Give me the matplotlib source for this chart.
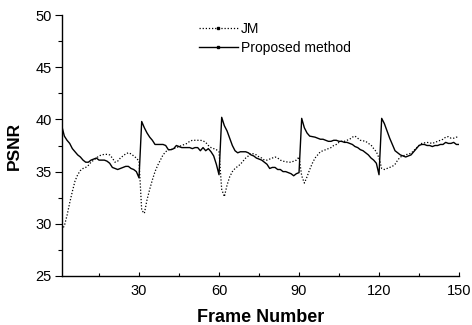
import matplotlib
matplotlib.use("Agg")
import matplotlib.pyplot as plt
from matplotlib.lines import Line2D
from matplotlib.ticker import MultipleLocator

plt.rcParams['font.family'] = ['Liberation Sans', 'DejaVu Sans']

frames = list(range(1, 151))

jm = [29.4, 29.8, 30.8, 32.0, 33.1, 34.1, 34.7, 35.1, 35.3, 35.4,
      35.6, 35.9, 36.1, 36.3, 36.5, 36.6, 36.65, 36.65, 36.6, 36.3,
      35.9, 36.0, 36.3, 36.5, 36.7, 36.8, 36.7, 36.5, 36.3, 36.0,
      31.3, 31.0, 32.3, 33.3, 34.2, 35.0, 35.6, 36.1, 36.6, 36.9,
      37.1, 37.1, 37.2, 37.3, 37.4, 37.5, 37.6, 37.7, 37.9, 38.0,
      38.0, 38.0, 38.0, 37.95, 37.8, 37.5, 37.3, 37.2, 37.1, 36.9,
      33.3, 32.6, 33.7, 34.5, 35.0, 35.3, 35.5, 35.7, 36.0, 36.3,
      36.5, 36.75, 36.7, 36.6, 36.4, 36.3, 36.1, 36.1, 36.2, 36.3,
      36.4, 36.3, 36.1, 36.0, 35.95, 35.9, 35.9, 36.0, 36.1, 36.4,
      34.6, 33.9, 34.5, 35.2, 35.8, 36.3, 36.6, 36.9, 37.0, 37.1,
      37.2, 37.3, 37.5, 37.6, 37.8, 37.9, 37.9, 38.0, 38.1, 38.3,
      38.4, 38.2, 38.0, 37.95, 37.9, 37.7, 37.55, 37.2, 36.9, 36.3,
      35.3, 35.2, 35.3, 35.4, 35.5, 35.7, 36.1, 36.4, 36.5, 36.6,
      36.7, 36.75, 37.0, 37.25, 37.5, 37.7, 37.75, 37.8, 37.75, 37.7,
      37.8, 37.9, 38.0, 38.1, 38.3, 38.35, 38.2, 38.2, 38.3, 38.3]

proposed = [39.4, 38.4, 38.0, 37.7, 37.2, 36.9, 36.6, 36.4, 36.1, 35.9,
            35.9, 36.1, 36.2, 36.3, 36.1, 36.1, 36.1, 36.0, 35.8, 35.4,
            35.3, 35.2, 35.3, 35.4, 35.5, 35.5, 35.3, 35.2, 35.0, 34.4,
            39.8, 39.2, 38.7, 38.3, 38.0, 37.6, 37.6, 37.6, 37.6, 37.5,
            37.1, 37.1, 37.2, 37.5, 37.4, 37.3, 37.3, 37.3, 37.3, 37.2,
            37.3, 37.3, 37.0, 37.3, 37.0, 37.2, 36.9, 36.5, 35.7, 34.7,
            40.2, 39.4, 38.9, 38.2, 37.5, 37.0, 36.8, 36.9, 36.9, 36.9,
            36.8, 36.6, 36.5, 36.3, 36.2, 36.1, 35.9, 35.7, 35.3, 35.4,
            35.4, 35.2, 35.2, 35.0, 35.0, 34.9, 34.8, 34.6, 34.8, 34.9,
            40.1, 39.2, 38.7, 38.4, 38.35, 38.3, 38.2, 38.1, 38.1, 38.0,
            37.9, 37.9, 38.0, 38.0, 37.9, 37.9, 37.8, 37.8, 37.7, 37.6,
            37.4, 37.3, 37.1, 37.0, 36.8, 36.6, 36.3, 36.1, 35.8, 34.7,
            40.1, 39.6, 38.9, 38.2, 37.6, 37.0, 36.8, 36.6, 36.5, 36.4,
            36.5, 36.6, 36.9, 37.2, 37.5, 37.6, 37.6, 37.5, 37.5, 37.4,
            37.5, 37.5, 37.6, 37.6, 37.8, 37.7, 37.7, 37.8, 37.6, 37.6]

series_labels = ["JM", "Proposed method"]
xticks = [30, 60, 90, 120, 150]
yticks = [25, 30, 35, 40, 45, 50]

fig = plt.figure(figsize=(4.72, 3.25), dpi=100)
ax = fig.add_axes([0.1307, 0.1508, 0.8418, 0.8030])

ax.plot(frames, jm, color='black', lw=0.9, linestyle=(0, (1, 1.5)))
ax.plot(frames, proposed, color='black', lw=1.0, linestyle='-')

ax.set_xlim(1, 150)
ax.set_ylim(25, 50)
ax.set_xticks(xticks)
ax.set_yticks(yticks)
ax.xaxis.set_minor_locator(MultipleLocator(15))
ax.yaxis.set_minor_locator(MultipleLocator(2.5))

for s in ['top', 'right']:
    ax.spines[s].set_visible(False)
for s in ['left', 'bottom']:
    ax.spines[s].set_linewidth(1.0)

ax.tick_params(axis='y', which='major', direction='out', length=5, width=0.8, labelsize=10.5, pad=2)
ax.tick_params(axis='y', which='minor', direction='out', length=3, width=0.8)
ax.tick_params(axis='x', which='major', direction='in', length=3, width=0.8, labelsize=10.5, pad=6)
ax.tick_params(axis='x', which='minor', direction='in', length=2, width=0.8)

ax.set_xlabel("Frame Number", fontsize=13, fontweight='bold', labelpad=8)
ax.set_ylabel("PSNR", fontsize=12.5, fontweight='bold', labelpad=10)

handles = [
    Line2D([0], [0], color='black', lw=0.9, linestyle=(0, (1, 1.5)), marker='s', markersize=2),
    Line2D([0], [0], color='black', lw=1.0, linestyle='-', marker='s', markersize=2),
]
ax.legend(handles, series_labels, loc='upper left', bbox_to_anchor=(0.3456, 0.972),
          frameon=False, fontsize=10, handlelength=2.8, handletextpad=0.2,
          labelspacing=0.32, borderpad=0, borderaxespad=0, numpoints=1)

fig.savefig("out.png", dpi=100)
